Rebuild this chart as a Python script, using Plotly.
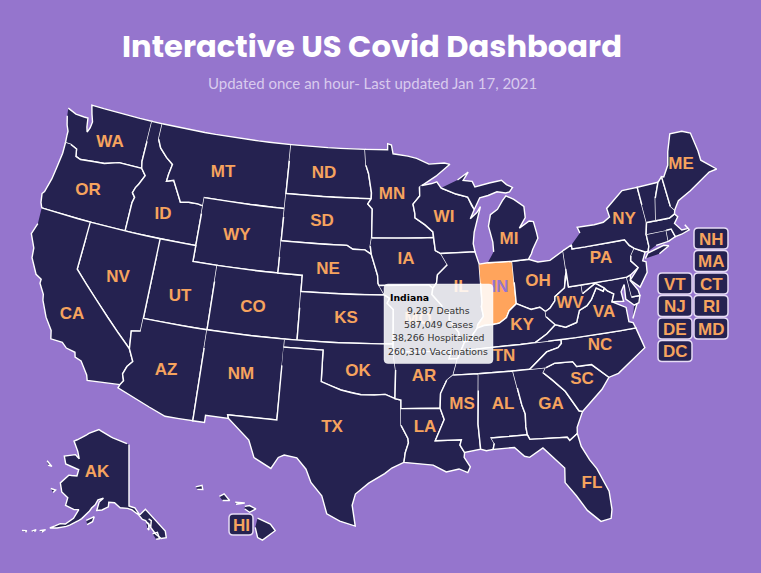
import math
import plotly.graph_objects as go

BG = "#9575cd"; DARK = "#252250"; ORANGE = "#ffa45c"; TEXT_ORANGE = "#f6a35e"

# ---------- state outlines, lon/lat ----------
WA = [(-124.73,48.38),(-123.9,48.17),(-123.1,48.15),(-122.75,48.15),(-122.6,47.6),(-122.45,47.3),(-122.3,47.6),(-122.25,48.0),(-122.5,48.45),(-122.76,49.0),(-117.03,49.0),(-117.04,46.42),(-116.92,46.0),(-118.98,46.0),(-119.3,45.93),(-120.2,45.72),(-121.2,45.65),(-122.3,45.55),(-122.76,45.65),(-122.9,46.1),(-123.5,46.27),(-124.0,46.27),(-124.07,46.7),(-124.1,47.0),(-124.35,47.35),(-124.6,47.9)]
OR = [(-124.0,46.27),(-123.95,45.6),(-124.05,44.7),(-124.15,43.9),(-124.4,43.0),(-124.55,42.84),(-124.4,42.3),(-124.2,42.0),(-120.0,42.0),(-117.03,42.0),(-117.03,43.8),(-116.92,44.15),(-117.2,44.4),(-117.05,44.75),(-116.85,45.0),(-116.47,45.6),(-116.92,46.0),(-118.98,46.0),(-119.3,45.93),(-120.2,45.72),(-121.2,45.65),(-122.3,45.55),(-122.76,45.65),(-122.9,46.1),(-123.5,46.27)]
ID = [(-117.03,49.0),(-116.05,49.0),(-116.05,48.0),(-115.7,47.5),(-115.0,47.0),(-114.35,46.65),(-114.5,46.0),(-114.55,45.56),(-113.95,45.7),(-113.45,45.05),(-113.0,44.45),(-112.3,44.55),(-111.5,44.55),(-111.05,44.48),(-111.05,42.0),(-117.03,42.0),(-117.03,43.8),(-116.92,44.15),(-117.2,44.4),(-117.05,44.75),(-116.85,45.0),(-116.47,45.6),(-116.92,46.0),(-117.04,46.42)]
MT = [(-116.05,49.0),(-104.05,49.0),(-104.05,45.0),(-111.05,45.0),(-111.05,44.48),(-111.5,44.55),(-112.3,44.55),(-113.0,44.45),(-113.45,45.05),(-113.95,45.7),(-114.55,45.56),(-114.5,46.0),(-114.35,46.65),(-115.0,47.0),(-115.7,47.5),(-116.05,48.0)]
WY = [(-111.05,45.0),(-104.05,45.0),(-104.05,41.0),(-111.05,41.0)]
UT = [(-114.05,42.0),(-111.05,42.0),(-111.05,41.0),(-109.05,41.0),(-109.05,37.0),(-114.05,37.0)]
CO = [(-109.05,41.0),(-102.05,41.0),(-102.05,37.0),(-109.05,37.0)]
NV = [(-120.0,42.0),(-114.05,42.0),(-114.05,36.2),(-114.75,36.1),(-114.6,35.0),(-120.0,39.0)]
CA = [(-124.2,42.0),(-120.0,42.0),(-120.0,39.0),(-114.6,35.0),(-114.15,34.27),(-114.5,33.9),(-114.7,33.4),(-114.52,33.0),(-114.72,32.72),(-117.12,32.53),(-117.25,32.85),(-117.9,33.6),(-118.4,33.75),(-118.5,34.03),(-119.2,34.15),(-119.6,34.42),(-120.5,34.45),(-120.65,34.95),(-121.3,35.65),(-121.9,36.6),(-122.0,36.95),(-122.5,37.55),(-122.5,37.8),(-123.0,38.0),(-123.7,38.9),(-123.8,39.5),(-124.35,40.3),(-124.1,41.0)]
AZ = [(-114.05,37.0),(-109.05,37.0),(-109.05,31.33),(-111.07,31.33),(-114.81,32.5),(-114.72,32.72),(-114.52,33.0),(-114.7,33.4),(-114.5,33.9),(-114.15,34.27),(-114.6,35.0),(-114.75,36.1),(-114.05,36.2)]
NM = [(-109.05,37.0),(-103.0,37.0),(-103.04,32.0),(-106.62,32.0),(-106.53,31.78),(-108.2,31.78),(-108.2,31.33),(-109.05,31.33)]
ND = [(-104.05,49.0),(-97.23,49.0),(-97.1,48.0),(-96.85,47.5),(-96.55,46.3),(-96.56,45.93),(-104.05,45.94)]
SD = [(-104.05,45.94),(-96.56,45.93),(-96.85,45.6),(-96.45,45.3),(-96.45,43.5),(-96.55,43.0),(-96.45,42.49),(-97.0,42.76),(-98.0,42.77),(-98.5,43.0),(-104.05,43.0)]
NE = [(-104.05,43.0),(-98.5,43.0),(-98.0,42.77),(-97.0,42.76),(-96.45,42.49),(-96.1,41.7),(-95.9,41.2),(-95.85,40.7),(-95.31,40.0),(-102.05,40.0),(-102.05,41.0),(-104.05,41.0)]
KS = [(-102.05,40.0),(-95.31,40.0),(-94.9,39.8),(-95.1,39.5),(-94.61,39.11),(-94.62,37.0),(-102.05,37.0)]
OK = [(-103.0,37.0),(-94.62,37.0),(-94.62,36.5),(-94.43,35.4),(-94.48,33.64),(-95.2,33.9),(-96.0,33.85),(-97.0,33.85),(-97.7,33.95),(-98.5,34.1),(-99.2,34.3),(-100.0,34.56),(-100.0,36.5),(-103.0,36.5)]
TX = [(-103.04,36.5),(-100.0,36.5),(-100.0,34.56),(-99.2,34.3),(-98.5,34.1),(-97.7,33.95),(-97.0,33.85),(-96.0,33.85),(-95.2,33.9),(-94.48,33.64),(-94.04,33.55),(-94.04,33.02),(-94.04,31.99),(-93.55,31.18),(-93.52,30.9),(-93.75,30.3),(-93.85,29.7),(-94.7,29.35),(-95.2,29.0),(-96.3,28.4),(-97.2,27.7),(-97.4,27.0),(-97.15,25.7),(-98.2,25.98),(-99.1,26.4),(-99.5,27.5),(-100.3,28.3),(-100.7,29.1),(-101.4,29.77),(-102.3,29.88),(-102.7,29.7),(-103.15,28.98),(-104.4,29.55),(-104.9,30.6),(-106.0,31.4),(-106.53,31.78),(-106.62,32.0),(-103.04,32.0)]
MN = [(-97.23,49.0),(-95.15,49.0),(-95.15,49.38),(-94.8,49.3),(-94.65,48.75),(-93.3,48.6),(-92.5,48.45),(-91.4,48.07),(-90.0,48.1),(-89.5,48.0),(-90.8,47.3),(-92.1,46.75),(-92.3,46.65),(-92.3,46.1),(-92.9,45.6),(-92.75,45.0),(-92.75,44.75),(-91.9,44.3),(-91.25,43.85),(-91.22,43.5),(-96.45,43.5),(-96.45,45.3),(-96.85,45.6),(-96.56,45.93),(-96.55,46.3),(-96.85,47.5),(-97.1,48.0)]
IA = [(-96.45,43.5),(-91.22,43.5),(-91.1,42.7),(-90.65,42.5),(-90.15,41.8),(-91.0,41.2),(-91.1,40.7),(-91.42,40.38),(-91.73,40.61),(-95.77,40.58),(-95.85,40.7),(-95.9,41.2),(-96.1,41.7),(-96.45,42.49),(-96.55,43.0)]
MO = [(-95.77,40.58),(-91.73,40.61),(-91.42,40.38),(-91.5,40.0),(-90.75,39.3),(-90.7,38.95),(-90.15,38.85),(-90.2,38.4),(-89.5,37.6),(-89.5,37.3),(-89.1,37.0),(-89.4,36.5),(-89.7,36.0),(-90.37,36.0),(-90.15,36.5),(-94.62,36.5),(-94.62,37.0),(-94.61,39.11),(-95.1,39.5),(-94.9,39.8),(-95.31,40.0)]
AR = [(-94.62,36.5),(-90.15,36.5),(-90.37,36.0),(-89.7,36.0),(-90.1,35.0),(-90.6,34.7),(-91.1,33.9),(-91.17,33.0),(-94.04,33.02),(-94.04,33.55),(-94.48,33.64),(-94.43,35.4)]
LA = [(-94.04,33.02),(-91.17,33.0),(-90.9,32.3),(-91.6,31.0),(-89.73,31.0),(-89.85,30.67),(-89.55,30.2),(-89.6,29.9),(-89.2,29.3),(-89.4,28.95),(-90.0,29.2),(-90.9,29.05),(-91.8,29.5),(-92.3,29.55),(-93.85,29.7),(-93.75,30.3),(-93.52,30.9),(-93.55,31.18),(-94.04,31.99)]
WI = [(-92.1,46.75),(-91.2,46.85),(-90.75,46.95),(-90.4,46.55),(-89.1,46.13),(-88.1,45.9),(-87.8,45.35),(-87.6,45.1),(-88.0,44.55),(-87.4,44.9),(-87.05,45.25),(-87.5,44.3),(-87.75,43.7),(-87.9,43.0),(-87.8,42.49),(-90.65,42.5),(-91.1,42.7),(-91.22,43.5),(-91.25,43.85),(-91.9,44.3),(-92.75,44.75),(-92.75,45.0),(-92.9,45.6),(-92.3,46.1),(-92.3,46.65)]
IL = [(-90.65,42.5),(-87.8,42.49),(-87.53,41.72),(-87.53,39.35),(-87.6,39.1),(-87.5,38.5),(-88.0,38.0),(-88.05,37.8),(-88.45,37.4),(-88.45,37.1),(-89.1,37.0),(-89.5,37.3),(-89.5,37.6),(-90.2,38.4),(-90.15,38.85),(-90.7,38.95),(-90.75,39.3),(-91.5,40.0),(-91.42,40.38),(-91.1,40.7),(-91.0,41.2),(-90.15,41.8)]
IN = [(-87.53,41.72),(-87.2,41.76),(-86.82,41.76),(-84.8,41.72),(-84.82,39.1),(-85.45,38.7),(-85.7,38.3),(-86.3,38.0),(-86.8,37.95),(-87.5,37.93),(-88.05,37.8),(-88.0,38.0),(-87.5,38.5),(-87.6,39.1),(-87.53,39.35)]
OH = [(-84.8,41.72),(-83.45,41.73),(-82.7,41.5),(-81.7,41.5),(-80.52,41.98),(-80.52,40.64),(-80.65,40.4),(-80.85,39.7),(-81.7,39.25),(-81.75,39.0),(-82.2,38.6),(-82.6,38.42),(-83.0,38.72),(-83.7,38.65),(-84.25,38.85),(-84.82,39.1)]
MI_LOWER = [(-86.82,41.76),(-84.8,41.72),(-83.45,41.73),(-83.15,42.05),(-83.0,42.3),(-82.45,42.95),(-82.5,43.3),(-82.65,44.0),(-83.0,44.07),(-83.4,43.9),(-83.9,43.7),(-83.3,44.3),(-83.3,45.0),(-84.1,45.5),(-84.75,45.78),(-85.1,45.5),(-85.6,45.0),(-86.25,44.7),(-86.5,44.0),(-86.25,43.0),(-86.25,42.4)]
MI_UPPER = [(-90.4,46.55),(-89.1,46.13),(-88.1,45.9),(-87.8,45.35),(-87.6,45.1),(-87.05,45.8),(-86.3,45.9),(-85.5,46.08),(-84.75,45.95),(-84.4,46.0),(-84.1,46.25),(-84.6,46.47),(-85.0,46.77),(-86.1,46.67),(-87.4,46.5),(-87.6,46.85),(-88.4,46.95),(-87.9,47.45),(-88.9,47.0)]
KY = [(-89.4,36.5),(-89.1,37.0),(-88.45,37.1),(-88.45,37.4),(-88.05,37.8),(-87.5,37.93),(-86.8,37.95),(-86.3,38.0),(-85.7,38.3),(-85.45,38.7),(-84.82,39.1),(-84.25,38.85),(-83.7,38.65),(-83.0,38.72),(-82.6,38.42),(-82.6,38.1),(-81.97,37.54),(-82.7,37.05),(-83.68,36.6)]
TN = [(-89.7,36.0),(-89.4,36.5),(-83.68,36.6),(-81.68,36.59),(-81.7,36.35),(-82.0,36.12),(-82.9,35.95),(-84.32,35.0),(-85.6,35.0),(-88.2,35.0),(-90.1,35.0)]
MS = [(-90.1,35.0),(-88.2,35.0),(-88.47,31.9),(-88.4,30.35),(-89.55,30.2),(-89.85,30.67),(-89.73,31.0),(-91.6,31.0),(-90.9,32.3),(-91.17,33.0),(-91.1,33.9),(-90.6,34.7)]
AL = [(-88.2,35.0),(-85.6,35.0),(-85.18,32.87),(-85.0,32.3),(-85.05,31.5),(-85.0,31.0),(-87.6,31.0),(-87.4,30.65),(-87.52,30.28),(-88.0,30.23),(-88.4,30.35),(-88.47,31.9)]
GA = [(-85.6,35.0),(-84.32,35.0),(-83.1,35.0),(-83.35,34.7),(-82.75,34.2),(-81.9,33.4),(-81.4,32.6),(-81.1,32.1),(-80.85,32.03),(-81.4,31.1),(-81.45,30.72),(-82.05,30.36),(-82.2,30.57),(-84.86,30.71),(-85.0,31.0),(-85.05,31.5),(-85.0,32.3),(-85.18,32.87)]
FL = [(-87.6,31.0),(-85.0,31.0),(-84.86,30.71),(-82.2,30.57),(-82.05,30.36),(-81.45,30.72),(-81.3,29.9),(-80.85,29.0),(-80.45,28.4),(-79.85,26.9),(-79.85,25.75),(-80.0,25.2),(-80.7,25.1),(-81.5,25.9),(-82.1,26.9),(-82.75,27.8),(-82.65,28.7),(-83.3,29.4),(-84.0,30.1),(-85.0,29.6),(-85.35,29.7),(-86.0,30.3),(-87.52,30.28),(-87.4,30.65)]
SC = [(-83.1,35.0),(-82.4,35.2),(-81.05,35.15),(-80.8,34.82),(-79.67,34.8),(-78.55,33.86),(-79.2,33.2),(-79.9,32.7),(-80.85,32.03),(-81.1,32.1),(-81.4,32.6),(-81.9,33.4),(-82.75,34.2),(-83.35,34.7)]
NC = [(-84.32,35.0),(-82.9,35.95),(-82.0,36.12),(-81.7,36.35),(-81.68,36.59),(-75.87,36.55),(-75.5,35.25),(-76.5,34.7),(-77.8,34.0),(-78.55,33.86),(-79.67,34.8),(-80.8,34.82),(-81.05,35.15),(-82.4,35.2),(-83.1,35.0)]
VA = [(-83.68,36.6),(-82.7,37.05),(-81.97,37.54),(-81.2,37.3),(-80.3,37.5),(-79.95,38.2),(-79.3,38.42),(-78.87,38.76),(-78.35,39.4),(-77.83,39.13),(-77.72,39.32),(-77.5,39.1),(-77.05,38.85),(-77.3,38.4),(-76.3,37.9),(-76.3,37.0),(-76.0,36.9),(-75.87,36.55),(-81.68,36.59)]
VA_SHORE = [(-75.95,37.15),(-75.4,38.0),(-75.65,37.95)]
WV = [(-82.6,38.42),(-82.2,38.6),(-81.75,39.0),(-81.7,39.25),(-80.85,39.7),(-80.65,40.4),(-80.52,40.64),(-80.52,39.72),(-79.48,39.72),(-79.48,39.2),(-78.35,39.7),(-77.72,39.32),(-77.83,39.13),(-78.35,39.4),(-78.87,38.76),(-79.3,38.42),(-79.95,38.2),(-80.3,37.5),(-81.2,37.3),(-81.97,37.54),(-82.6,38.1)]
MD = [(-79.48,39.72),(-75.79,39.72),(-75.7,38.46),(-75.05,38.45),(-75.25,38.03),(-75.65,37.95),(-76.2,38.4),(-76.1,39.3),(-76.45,38.9),(-76.4,38.3),(-77.3,38.4),(-77.05,38.85),(-77.5,39.1),(-77.72,39.32),(-78.35,39.7),(-79.48,39.2)]
DE = [(-75.79,39.72),(-75.45,39.8),(-75.55,39.45),(-75.1,38.8),(-75.05,38.45),(-75.7,38.46)]
PA = [(-80.52,41.98),(-79.76,42.25),(-79.76,42.0),(-75.35,42.0),(-75.05,41.6),(-74.7,41.36),(-75.1,40.95),(-75.2,40.65),(-74.72,40.15),(-75.45,39.8),(-75.79,39.72),(-80.52,39.72)]
NJ = [(-74.7,41.36),(-73.9,41.0),(-74.25,40.5),(-74.0,40.4),(-74.1,39.75),(-74.9,38.95),(-75.55,39.5),(-74.72,40.15),(-75.2,40.65),(-75.1,40.95)]
NY = [(-79.76,42.25),(-79.76,42.0),(-75.35,42.0),(-75.05,41.6),(-74.7,41.36),(-73.9,41.0),(-73.65,41.0),(-73.5,41.3),(-73.5,42.05),(-73.25,42.75),(-73.35,45.0),(-74.7,45.0),(-75.8,44.4),(-76.3,44.1),(-76.2,43.55),(-76.8,43.3),(-77.6,43.25),(-79.05,43.27),(-78.9,42.9)]
NY_LONG_ISLAND = [(-74.0,40.6),(-73.7,40.9),(-72.3,41.15),(-71.9,41.05),(-72.8,40.7)]
CT = [(-73.65,41.0),(-73.5,41.3),(-73.5,42.05),(-71.8,42.02),(-71.85,41.32),(-72.9,41.25)]
RI = [(-71.8,42.02),(-71.38,42.02),(-71.2,41.5),(-71.85,41.32)]
MA = [(-73.5,42.05),(-73.25,42.75),(-72.46,42.73),(-71.3,42.7),(-70.8,42.87),(-70.6,42.65),(-71.0,42.3),(-70.55,41.8),(-70.0,41.8),(-70.2,42.07),(-69.95,41.7),(-70.65,41.55),(-71.2,41.5),(-71.38,42.02),(-71.8,42.02)]
VT = [(-73.25,42.75),(-72.46,42.73),(-72.05,44.1),(-71.5,45.01),(-73.35,45.0)]
NH = [(-72.46,42.73),(-71.3,42.7),(-70.8,42.87),(-70.7,43.1),(-70.98,43.4),(-71.08,45.3),(-71.5,45.01),(-72.05,44.1)]
ME = [(-70.7,43.1),(-70.2,43.6),(-69.0,44.0),(-68.0,44.4),(-67.0,44.8),(-66.3,44.85),(-67.4,45.65),(-67.4,46.25),(-67.6,47.45),(-68.3,47.7),(-69.4,47.75),(-70.0,46.7),(-70.3,45.9),(-70.9,45.25),(-71.08,45.3),(-70.98,43.4)]
AK = [(-141.0,69.65),(-141.0,60.3),(-139.0,60.0),(-137.5,58.9),(-135.5,59.7),(-133.5,58.5),(-130.0,56.0),(-130.0,55.0),(-131.5,55.0),(-133.0,55.8),(-134.5,57.0),(-135.7,58.0),(-136.7,58.2),(-138.0,59.0),(-140.0,59.7),(-141.5,59.95),(-144.0,60.0),(-146.0,60.7),(-148.0,60.7),(-148.0,60.0),(-150.0,59.4),(-151.7,59.2),(-151.3,60.5),(-150.0,61.2),(-151.8,60.8),(-152.5,60.0),(-153.5,59.4),(-154.0,58.9),(-156.0,57.5),(-158.0,56.5),(-160.0,55.7),(-162.5,55.0),(-164.5,54.6),(-162.0,55.8),(-160.5,56.0),(-158.5,57.2),(-157.5,58.7),(-159.0,58.5),(-162.0,58.7),(-162.0,59.9),(-164.5,60.4),(-166.0,61.6),(-165.0,62.5),(-164.0,63.2),(-161.0,63.5),(-161.0,64.5),(-163.0,64.6),(-166.5,64.6),(-168.1,65.6),(-164.0,66.5),(-162.0,66.1),(-163.5,67.1),(-166.5,68.35),(-163.0,69.5),(-161.0,70.3),(-156.6,71.35),(-152.0,70.8),(-148.0,70.4),(-144.0,70.0)]
AK_ST_LAWRENCE = [(-173.5,63.7),(-171.0,63.3),(-172.5,63.2)]
AK_NUNIVAK = [(-168.4,60.2),(-166.7,60.3),(-167.2,59.8)]
AK_KODIAK = [(-154.5,57.4),(-152.2,58.2),(-152.5,57.4),(-154.0,56.8)]
AK_UNIMAK = [(-167.0,53.6),(-165.5,54.1),(-166.3,53.5)]
AK_UMNAK = [(-169.0,53.0),(-168.0,53.5),(-168.2,53.1)]
AK_ATKA = [(-171.5,52.4),(-170.3,52.7),(-170.4,52.4)]
AK_PRINCE_OF_WALES = [(-133.9,55.9),(-132.4,56.0),(-132.0,55.0),(-133.0,55.0)]
AK_BARANOF = [(-135.6,57.7),(-134.8,57.5),(-134.9,56.5),(-135.3,56.8)]
AK_ADMIRALTY = [(-134.7,58.2),(-133.9,57.9),(-134.2,57.1),(-134.7,57.3)]
HI_BIG = [(-155.9,20.25),(-155.1,19.9),(-154.8,19.5),(-155.6,18.95),(-155.9,19.1),(-156.05,19.7)]
HI_MAUI = [(-156.7,20.95),(-156.4,21.0),(-156.0,20.8),(-156.4,20.6),(-156.7,20.8)]
HI_MOLOKAI = [(-157.3,21.2),(-156.7,21.15),(-157.25,21.08)]
HI_OAHU = [(-158.3,21.55),(-158.0,21.7),(-157.65,21.3),(-158.1,21.3)]
HI_KAUAI = [(-159.8,22.1),(-159.4,22.2),(-159.35,21.95),(-159.7,21.95)]

MAIN_SHAPES = {"WA":[WA],"OR":[OR],"ID":[ID],"MT":[MT],"WY":[WY],"UT":[UT],"CO":[CO],"NV":[NV],"CA":[CA],"AZ":[AZ],"NM":[NM],"ND":[ND],"SD":[SD],"NE":[NE],"KS":[KS],"OK":[OK],"TX":[TX],"MN":[MN],"IA":[IA],"MO":[MO],"AR":[AR],"LA":[LA],"WI":[WI],"IL":[IL],"IN":[IN],"OH":[OH],"MI":[MI_LOWER,MI_UPPER],"KY":[KY],"TN":[TN],"MS":[MS],"AL":[AL],"GA":[GA],"FL":[FL],"SC":[SC],"NC":[NC],"VA":[VA,VA_SHORE],"WV":[WV],"MD":[MD],"DE":[DE],"PA":[PA],"NJ":[NJ],"NY":[NY,NY_LONG_ISLAND],"CT":[CT],"RI":[RI],"MA":[MA],"VT":[VT],"NH":[NH],"ME":[ME]}
AK_SHAPES = [AK,AK_ST_LAWRENCE,AK_NUNIVAK,AK_KODIAK,AK_UNIMAK,AK_UMNAK,AK_ATKA,AK_PRINCE_OF_WALES,AK_BARANOF,AK_ADMIRALTY]
HI_SHAPES = [HI_BIG,HI_MAUI,HI_MOLOKAI,HI_OAHU,HI_KAUAI]

HIGHLIGHTED = "IN"
TOOLTIP_STATE = "Indiana"
TOOLTIP_LINES = ["9,287 Deaths","587,049 Cases","38,266 Hospitalized","260,310 Vaccinations"]

PLAIN_LABELS = ["WA","OR","CA","NV","ID","MT","WY","UT","AZ","CO","NM","ND","SD","NE","KS","OK","TX","MN","IA","MO","AR","LA","WI","IL","MI","OH","KY","TN","MS","AL","GA","FL","SC","NC","VA","WV","PA","NY","ME","AK"]
LABEL_X = [110,88,72,118,163,223,237,180,166,253,241,324,322,328,346,358,332,392,406,418,424,425,444,461,509,538,522,504,462,503,551,592,582,600,604,570,601,624,681,97]
LABEL_Y = [143,191,315,278,215,173,236,297,371,308,375,174,222,270,319,372,428,195,260,320,377,428,218,288,240,282,326,357,405,405,405,484,380,346,313,304,259,220,165,473]
BOX_LABELS = ["NH","MA","VT","CT","NJ","RI","DE","MD","DC","HI"]
BOX_LEFT = [694,694,658,694,658,694,658,694,658,229]
BOX_TOP = [228,250.5,273,273,295.5,295.5,318,318,340.5,514]
BOX_W = [34,34,34,34,34,34,34,34,34,24]
BOX_H = 21

def albers(points, lon0, lat0, p1, p2, kx, ky, tx, ty):
    a1, a2 = math.radians(p1), math.radians(p2)
    n = (math.sin(a1)+math.sin(a2))/2
    c = math.cos(a1)**2 + 2*n*math.sin(a1)
    rho0 = math.sqrt(c-2*n*math.sin(math.radians(lat0)))/n
    xs, ys = [], []
    closed = list(points)+[points[0]]
    for (l1,b1),(l2,b2) in zip(closed[:-1],closed[1:]):
        steps = max(1,int(max(abs(l2-l1),abs(b2-b1))))
        for i in range(steps):
            lon = l1+(l2-l1)*i/steps; lat = b1+(b2-b1)*i/steps
            rho = math.sqrt(c-2*n*math.sin(math.radians(lat)))/n
            th = n*math.radians(lon-lon0)
            xs.append(tx+kx*rho*math.sin(th))
            ys.append(ty-ky*(rho0-rho*math.cos(th)))
    xs.append(None); ys.append(None)
    return xs, ys

MAIN = dict(lon0=-94.5,lat0=37.5,p1=29.5,p2=45.5,kx=938,ky=924,tx=394.7,ty=335.8)
AKP = dict(lon0=-141,lat0=60,p1=55,p2=65,kx=340,ky=378,tx=129,ty=508)
HIP = dict(lon0=-157,lat0=20.5,p1=8,p2=18,kx=970,ky=970,tx=240,ty=514)

fig = go.Figure()
def add(name, parts, prm):
    xs, ys = [], []
    for p in parts:
        x, y = albers(p, **prm); xs += x; ys += y
    fig.add_trace(go.Scatter(x=xs, y=ys, mode="lines", fill="toself", name=name,
        fillcolor=ORANGE if name==HIGHLIGHTED else DARK,
        line=dict(color="white", width=1.4), hoverinfo="name", showlegend=False))
for name, parts in MAIN_SHAPES.items():
    add(name, parts, MAIN)
add("AK", AK_SHAPES, AKP)
add("HI", HI_SHAPES, HIP)

fig.add_trace(go.Scatter(x=LABEL_X, y=LABEL_Y, mode="text", text=PLAIN_LABELS, hoverinfo="skip", showlegend=False,
    textfont=dict(family="Liberation Sans", size=17, color=TEXT_ORANGE, weight="bold")))
fig.add_trace(go.Scatter(x=[500], y=[288], mode="text", text=[HIGHLIGHTED], hoverinfo="skip", showlegend=False,
    textfont=dict(family="Liberation Sans", size=17, color=BG, weight="bold")))

def rrect(x0,y0,x1,y1,r):
    return (f"M{x0+r},{y0} L{x1-r},{y0} Q{x1},{y0} {x1},{y0+r} L{x1},{y1-r} Q{x1},{y1} {x1-r},{y1} "
            f"L{x0+r},{y1} Q{x0},{y1} {x0},{y1-r} L{x0},{y0+r} Q{x0},{y0} {x0+r},{y0} Z")

shapes, anns = [], []
for lab,l,t,w in zip(BOX_LABELS,BOX_LEFT,BOX_TOP,BOX_W):
    shapes.append(dict(type="path", path=rrect(l,t,l+w,t+BOX_H,4), xref="x", yref="y", layer="above",
        fillcolor=DARK, line=dict(color="#e6dcf5", width=1.5)))
    anns.append(dict(x=l+w/2, y=t+BOX_H/2+0.5, text=f"<b>{lab}</b>", showarrow=False, xref="x", yref="y",
        font=dict(family="Liberation Sans", size=17, color=TEXT_ORANGE)))
shapes.append(dict(type="path", path=rrect(384,284,493,363.5,4), xref="x", yref="y", layer="above",
    fillcolor="rgba(255,255,255,0.87)", line=dict(color="rgba(255,255,255,0.9)", width=0.5)))
anns.append(dict(x=388, y=297, text=f"<b>{TOOLTIP_STATE}</b>", showarrow=False, xanchor="left", xref="x", yref="y",
    font=dict(family="DejaVu Sans", size=9.3, color="black")))
for line, yy in zip(TOOLTIP_LINES,[310.5,324,337.5,351]):
    anns.append(dict(x=438, y=yy, text=line, showarrow=False, xref="x", yref="y",
        font=dict(family="DejaVu Sans", size=9.3, color="#333333")))
anns.append(dict(x=372, y=46, text="<b>Interactive US Covid Dashboard</b>", showarrow=False, xref="x", yref="y",
    font=dict(family="Poppins", size=30.6, color="white")))
anns.append(dict(x=372, y=83, text="Updated once an hour- Last updated Jan 17, 2021", showarrow=False, xref="x", yref="y",
    font=dict(family="Lato", size=15, color="#d9cbee")))

fig.update_layout(width=761, height=573, autosize=False, margin=dict(l=0,r=0,t=0,b=0),
    paper_bgcolor=BG, plot_bgcolor=BG, showlegend=False, shapes=shapes, annotations=anns,
    xaxis=dict(range=[0,761], visible=False, fixedrange=True),
    yaxis=dict(range=[573,0], visible=False, fixedrange=True))
fig.write_html("out.html", config={"displayModeBar":False},
    post_script="document.body.style.margin='0';document.body.style.background='%s';" % BG)
